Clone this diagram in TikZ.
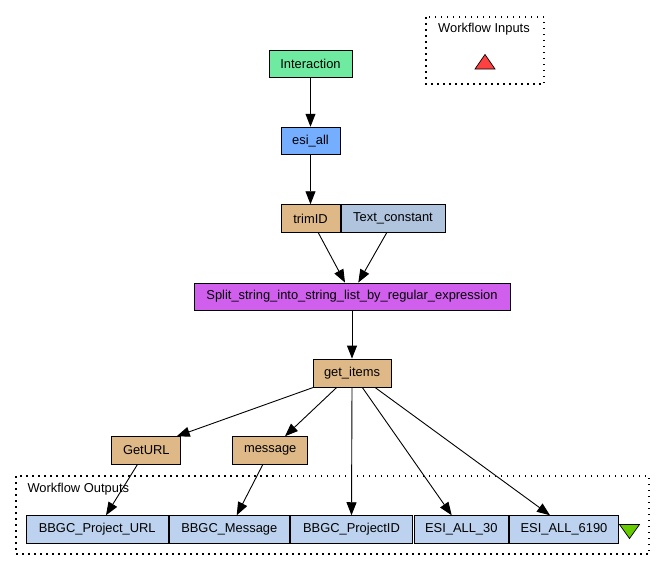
\documentclass[tikz,border=0pt]{standalone}
\usepackage{fontspec}
\setmainfont{Liberation Sans}
\usetikzlibrary{arrows.meta}
\definecolor{cInter}{RGB}{110,235,160}
\definecolor{cBlue}{RGB}{117,173,255}
\definecolor{cBurly}{RGB}{222,184,135}
\definecolor{cSteel}{RGB}{176,196,222}
\definecolor{cOrchid}{RGB}{209,95,238}
\definecolor{cOut}{RGB}{188,210,238}
\definecolor{cRed}{RGB}{255,64,64}
\definecolor{cGreen}{RGB}{102,204,0}
\tikzset{
  box/.style={draw=black, line width=0.9pt, inner sep=0pt, minimum height=27.6pt,
    font=\fontsize{12.9}{15}\selectfont, text=black, anchor=center},
  edge/.style={draw=black, line width=0.9pt, -{Triangle[length=13pt,width=10pt]}},
  cluster/.style={draw=black, line width=1.3pt, dash pattern=on 1.5pt off 4.5pt},
  lbl/.style={font=\fontsize{12.9}{15}\selectfont, inner sep=0pt},
  tri/.style={draw=black, line width=0.7pt}
}
\begin{document}
\begin{tikzpicture}[x=1pt,y=-1pt]
\useasboundingbox (0,0) rectangle (665,571);
% clusters
\draw[cluster] (426,17) rectangle (544,84);
\node[lbl] (inlbl) at (484,29.5) {Workflow Inputs};
\draw[tri, fill=cRed] (475,69) -- (495,69) -- (485,54.5) -- cycle;
\draw[cluster] (16,476) rectangle (649,554);
\node[lbl, anchor=west] (outlbl) at (27.3,489.5) {Workflow Outputs};
\draw[tri, fill=cGreen] (619.5,524.5) -- (639.5,524.5) -- (629.5,538.5) -- cycle;
% nodes
\node[box, fill=cInter, minimum width=83pt, minimum height=27pt] (inter) at (310.5,63.5) {Interaction};
\node[box, fill=cBlue, minimum width=59pt] (esi) at (310.5,141) {esi\_all};
\node[box, fill=cBurly, minimum width=59pt] (trim) at (310.5,218.5) {trimID};
\node[box, fill=cSteel, minimum width=104pt] (textc) at (393,218.5) {Text\_constant};
\node[box, fill=cOrchid, minimum width=316pt, minimum height=27pt] (split) at (352,296.5) {Split\_string\_into\_string\_list\_by\_regular\_expression};
\node[box, fill=cBurly, minimum width=78pt, minimum height=28pt] (items) at (352,373) {get\_items};
\node[box, fill=cBurly, minimum width=69pt] (geturl) at (146.3,450.5) {GetURL};
\node[box, fill=cBurly, minimum width=75pt] (msg) at (270.2,450.5) {message};
\node[box, fill=cOut, minimum width=142pt] (ourl) at (97.2,529.5) {BBGC\_Project\_URL};
\node[box, fill=cOut, minimum width=120pt] (omsg) at (229.3,529.5) {BBGC\_Message};
\node[box, fill=cOut, minimum width=122pt] (opid) at (351.5,529.5) {BBGC\_ProjectID};
\node[box, fill=cOut, minimum width=94pt] (o30) at (461.3,529.5) {ESI\_ALL\_30};
\node[box, fill=cOut, minimum width=109pt] (o6190) at (564,529.5) {ESI\_ALL\_6190};
% edges
\draw[edge] (inter.south) -- (esi.north);
\draw[edge] (esi.south) -- (trim.north);
\draw[edge] ([xshift=7.8pt]trim.south) -- ([xshift=-7pt]split.north);
\draw[edge] ([xshift=-6.3pt]textc.south) -- ([xshift=6.3pt]split.north);
\draw[edge] (split.south) -- (items.north);
\draw[edge] ([xshift=-38.7pt]items.south) -- ([xshift=-4.5pt]geturl.north east);
\draw[edge] ([xshift=-15.3pt]items.south) -- ([xshift=14.8pt]msg.north);
\draw[edge] (items.south) -- (opid.north);
\draw[edge] ([xshift=10.3pt]items.south) -- ([xshift=-9.6pt]o30.north);
\draw[edge] ([xshift=23pt]items.south) -- ([xshift=-14pt]o6190.north);
\draw[edge] ([xshift=-9pt]geturl.south) -- ([xshift=8.8pt]ourl.north);
\draw[edge] ([xshift=-7.5pt]msg.south) -- ([xshift=7.4pt]omsg.north);
\end{tikzpicture}
\end{document}
